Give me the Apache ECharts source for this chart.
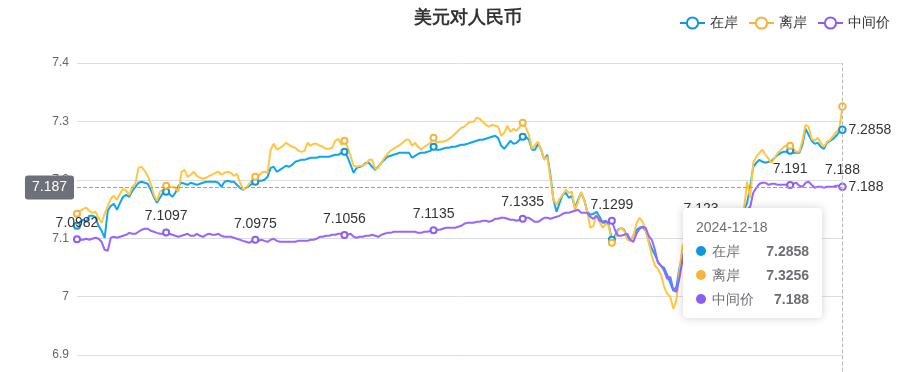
<!DOCTYPE html>
<html><head><meta charset="utf-8">
<script src="https://cdn.jsdelivr.net/npm/echarts@6/dist/echarts.min.js"></script>
<style>html,body{margin:0;padding:0;overflow:hidden;background:#fff}#c{width:915px;height:450px}</style>
</head><body><div id="c"></div>
<script>
const seriesNames = ['在岸', '离岸', '中间价'];
const lastDate = '2024-12-18';
const pointCount = 250;
const yTicks = { min: 6.8, max: 7.4, step: 0.1 };

const onshore = [
7.1212,7.1281,7.1315,7.1281,7.1384,7.1384,7.1366,7.1212,7.1127,7.1007,
7.1469,7.1555,7.1589,7.1486,7.1606,7.1709,7.1743,7.1709,7.1812,7.1880,
7.1949,7.1966,7.1949,7.1932,7.1829,7.1709,7.1606,7.1692,7.1777,7.1795,
7.1760,7.1709,7.1777,7.1897,7.1949,7.1932,7.1914,7.1949,7.1932,7.1914,
7.1932,7.1949,7.1966,7.1966,7.1966,7.1966,7.1949,7.1880,7.1966,7.1983,
7.1966,7.1966,7.1914,7.1863,7.1829,7.1863,7.1897,7.1932,7.1966,7.1983,
7.1983,7.2000,7.2051,7.2205,7.2223,7.2137,7.2171,7.2205,7.2240,7.2223,
7.2257,7.2308,7.2325,7.2342,7.2342,7.2360,7.2377,7.2377,7.2377,7.2394,
7.2394,7.2394,7.2394,7.2411,7.2428,7.2428,7.2462,7.2479,7.2394,7.2257,
7.2120,7.2205,7.2223,7.2240,7.2291,7.2291,7.2223,7.2171,7.2223,7.2291,
7.2342,7.2394,7.2411,7.2428,7.2445,7.2462,7.2462,7.2462,7.2462,7.2377,
7.2411,7.2445,7.2462,7.2462,7.2479,7.2497,7.2565,7.2514,7.2514,7.2531,
7.2548,7.2548,7.2565,7.2565,7.2582,7.2599,7.2599,7.2616,7.2634,7.2651,
7.2668,7.2685,7.2685,7.2702,7.2719,7.2736,7.2753,7.2719,7.2582,7.2531,
7.2599,7.2668,7.2616,7.2634,7.2685,7.2736,7.2736,7.2685,7.2514,7.2514,
7.2616,7.2514,7.2342,7.2428,7.2086,7.1658,7.1452,7.1606,7.1743,7.1777,
7.1692,7.1726,7.1521,7.1658,7.1777,7.1658,7.1452,7.1401,7.1418,7.1452,
7.1366,7.1264,7.1264,7.1229,7.0973,7.1041,7.1144,7.1178,7.1144,7.1024,
7.0955,7.1041,7.1144,7.1178,7.1195,7.1127,7.0955,7.0818,7.0716,7.0596,
7.0527,7.0493,7.0373,7.0236,7.0099,7.0168,7.0493,7.0699,7.0818,7.0870,
7.0921,7.0973,7.1007,7.1058,7.1092,7.1161,7.1212,7.1264,7.1298,7.1349,
7.1384,7.1401,7.1384,7.1366,7.1349,7.1384,7.1435,7.1486,7.1606,7.1880,
7.2223,7.2291,7.2342,7.2308,7.2291,7.2308,7.2325,7.2377,7.2428,7.2462,
7.2479,7.2479,7.2497,7.2462,7.2462,7.2462,7.2599,7.2873,7.2771,7.2668,
7.2616,7.2634,7.2565,7.2531,7.2634,7.2668,7.2702,7.2753,7.2822,7.2858];

const offshore = [
7.1418,7.1469,7.1503,7.1521,7.1469,7.1435,7.1452,7.1349,7.1264,7.1418,
7.1555,7.1675,7.1726,7.1658,7.1760,7.1846,7.1812,7.1743,7.1880,7.1932,
7.2205,7.2223,7.2154,7.2068,7.1932,7.1743,7.1640,7.1795,7.1829,7.1897,
7.1880,7.1880,7.1863,7.1795,7.2137,7.2171,7.2051,7.2086,7.2137,7.2068,
7.2034,7.2017,7.2034,7.2068,7.2086,7.2120,7.2137,7.2086,7.2120,7.2137,
7.2120,7.2068,7.2103,7.1966,7.1829,7.1863,7.1932,7.2000,7.2051,7.2068,
7.2120,7.2137,7.2120,7.2514,7.2616,7.2514,7.2548,7.2582,7.2634,7.2599,
7.2565,7.2548,7.2497,7.2479,7.2497,7.2634,7.2582,7.2616,7.2616,7.2582,
7.2565,7.2531,7.2531,7.2548,7.2668,7.2702,7.2599,7.2668,7.2565,7.2411,
7.2240,7.2223,7.2240,7.2240,7.2274,7.2342,7.2342,7.2188,7.2205,7.2291,
7.2377,7.2445,7.2497,7.2531,7.2565,7.2599,7.2634,7.2685,7.2685,7.2582,
7.2634,7.2565,7.2514,7.2565,7.2599,7.2634,7.2719,7.2634,7.2651,7.2651,
7.2668,7.2702,7.2736,7.2788,7.2839,7.2890,7.2908,7.2959,7.2993,7.2993,
7.3062,7.3045,7.2993,7.2942,7.2908,7.2942,7.2925,7.2908,7.2753,7.2805,
7.2925,7.2822,7.2873,7.2839,7.2908,7.2976,7.2890,7.2771,7.2531,7.2599,
7.2651,7.2514,7.2342,7.2394,7.2034,7.1658,7.1572,7.1675,7.1743,7.1829,
7.1777,7.1795,7.1486,7.1623,7.1795,7.1658,7.1452,7.1178,7.1212,7.1401,
7.1281,7.1178,7.1247,7.1212,7.0921,7.0990,7.1127,7.1178,7.1127,7.0973,
7.0955,7.1041,7.1247,7.1349,7.1281,7.1127,7.0921,7.0699,7.0527,7.0476,
7.0373,7.0168,7.0048,6.9997,6.9791,6.9945,7.0442,7.0870,7.0990,7.0955,
7.1007,7.1041,7.1092,7.1127,7.1144,7.1195,7.1247,7.1298,7.1332,7.1384,
7.1401,7.1418,7.1401,7.1384,7.1384,7.1418,7.1452,7.1503,7.1966,7.1692,
7.2291,7.2394,7.2462,7.2514,7.2428,7.2360,7.2291,7.2377,7.2462,7.2514,
7.2565,7.2599,7.2582,7.2531,7.2479,7.2479,7.2668,7.2942,7.2908,7.2702,
7.2668,7.2719,7.2634,7.2565,7.2651,7.2685,7.2753,7.2822,7.2873,7.3256];

const midRate = [
7.0982,7.0973,7.0973,7.0990,7.0973,7.0990,7.1007,7.0990,7.0938,7.0801,
7.0784,7.1007,7.1024,7.1007,7.1024,7.1041,7.1058,7.1092,7.1075,7.1075,
7.1110,7.1144,7.1161,7.1161,7.1127,7.1110,7.1092,7.1075,7.1075,7.1097,
7.1075,7.1058,7.1041,7.1024,7.1041,7.1058,7.1075,7.1041,7.1041,7.1075,
7.1041,7.1024,7.1058,7.1075,7.1058,7.1058,7.1075,7.1041,7.1024,7.1024,
7.1024,7.1007,7.0990,7.0973,7.0955,7.0938,7.0921,7.0955,7.0975,7.0955,
7.0973,7.0955,7.0938,7.0973,7.0990,7.0955,7.0938,7.0938,7.0938,7.0938,
7.0938,7.0938,7.0955,7.0955,7.0955,7.0955,7.0973,7.0973,7.0990,7.1024,
7.1024,7.1041,7.1041,7.1058,7.1058,7.1075,7.1075,7.1056,7.1058,7.1075,
7.1024,7.1007,7.1024,7.1024,7.1041,7.1041,7.1058,7.1041,7.1024,7.1058,
7.1075,7.1092,7.1092,7.1110,7.1110,7.1110,7.1110,7.1110,7.1110,7.1110,
7.1110,7.1092,7.1092,7.1110,7.1110,7.1127,7.1135,7.1144,7.1144,7.1161,
7.1178,7.1178,7.1178,7.1178,7.1195,7.1212,7.1247,7.1264,7.1264,7.1264,
7.1281,7.1281,7.1298,7.1298,7.1281,7.1298,7.1332,7.1332,7.1349,7.1349,
7.1332,7.1315,7.1315,7.1298,7.1315,7.1335,7.1349,7.1349,7.1315,7.1281,
7.1281,7.1315,7.1349,7.1349,7.1332,7.1349,7.1366,7.1384,7.1418,7.1435,
7.1435,7.1452,7.1469,7.1486,7.1435,7.1435,7.1435,7.1366,7.1332,7.1384,
7.1298,7.1281,7.1298,7.1264,7.1299,7.1144,7.1041,7.1041,7.1058,7.1075,
7.0973,7.0938,7.1075,7.1161,7.1195,7.1178,7.1041,7.0973,7.0801,7.0579,
7.0527,7.0442,7.0305,7.0339,7.0116,7.0082,7.0322,7.0630,7.0784,7.0921,
7.1041,7.1127,7.1195,7.123,7.1229,7.1247,7.1247,7.1264,7.1281,7.1281,
7.1298,7.1298,7.1315,7.1315,7.1332,7.1349,7.1384,7.1435,7.1486,7.1538,
7.1777,7.1863,7.1932,7.1949,7.1949,7.1914,7.1932,7.1932,7.1914,7.1914,
7.1914,7.1914,7.191,7.1932,7.1949,7.1897,7.1880,7.1949,7.1966,7.1914,
7.1863,7.1880,7.1880,7.1863,7.1880,7.1880,7.1880,7.1897,7.1897,7.188];

// trading-day categories ending at the last date shown in the tooltip
const dates = (function () {
  const out = [];
  const p = lastDate.split('-').map(Number);
  const d = new Date(Date.UTC(p[0], p[1] - 1, p[2]));
  while (out.length < pointCount) {
    const w = d.getUTCDay();
    if (w !== 0 && w !== 6) out.unshift(d.toISOString().slice(0, 10));
    d.setUTCDate(d.getUTCDate() - 1);
  }
  return out;
})();

const colors = ['#0f96dc', '#f5b43c', '#8b5cf6'];
const chart = echarts.init(document.getElementById('c'));
const endLabel = { show: true, formatter: '{c}', fontSize: 14, color: '#333', distance: 6 };
chart.setOption({
  animation: false,
  color: colors,
  title: { text: '美元对人民币', left: 409, top: 4, textStyle: { fontSize: 18, fontWeight: 'bold', color: '#333' } },
  legend: { right: 20, top: 11, itemWidth: 25, itemHeight: 14, itemGap: 10, textStyle: { fontSize: 14, color: '#333' }, data: seriesNames },
  tooltip: {
    trigger: 'axis', alwaysShowContent: true, transitionDuration: 0,
    backgroundColor: '#fff', borderColor: '#fff', borderWidth: 1, padding: [11, 12],
    extraCssText: 'box-shadow: 0 0 10px rgba(0,0,0,0.18); border-radius: 4px;',
    axisPointer: { type: 'cross', label: { fontSize: 14, backgroundColor: '#6E7079' } }
  },
  grid: { left: 77, right: 72.6, top: 63, bottom: 36.6 },
  xAxis: {
    type: 'category', boundaryGap: false, data: dates,
    axisLabel: { interval: 28 },
    axisPointer: { label: { show: false } }
  },
  yAxis: {
    type: 'value', min: yTicks.min, max: yTicks.max, interval: yTicks.step,
    axisLabel: { color: '#666', fontSize: 12 }
  },
  series: [
    { name: seriesNames[0], type: 'line', data: onshore, symbol: 'emptyCircle', symbolSize: 6, lineStyle: { width: 2 }, endLabel: endLabel },
    { name: seriesNames[1], type: 'line', data: offshore, symbol: 'emptyCircle', symbolSize: 6, lineStyle: { width: 2 } },
    { name: seriesNames[2], type: 'line', data: midRate, symbol: 'emptyCircle', symbolSize: 6, lineStyle: { width: 2 },
      label: { show: true, position: 'top', fontSize: 14, color: '#333' }, endLabel: endLabel }
  ]
});
function showPointer() {
  chart.dispatchAction({ type: 'showTip', x: 842, y: 187.5 });
}
showPointer();
setTimeout(showPointer, 0);
setTimeout(showPointer, 60);
</script></body></html>
